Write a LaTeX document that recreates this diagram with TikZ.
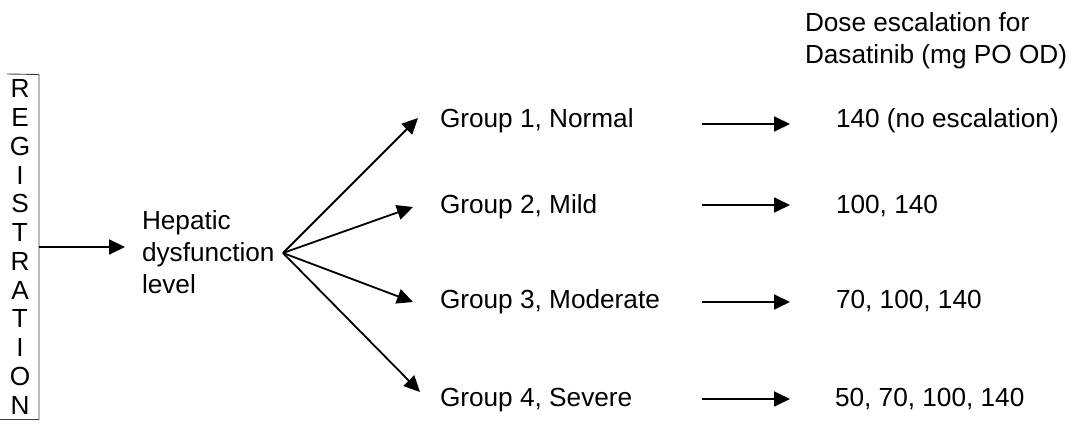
\documentclass[tikz,border=0pt]{standalone}
\usepackage{fontspec}
\setmainfont{Liberation Sans}
\usetikzlibrary{arrows.meta}
\begin{document}
\begin{tikzpicture}[x=1pt,y=-1pt,
  every node/.style={font=\fontsize{26.2}{32}\selectfont, inner sep=0pt, outer sep=0pt},
  arr/.style={line width=1.8pt, -{Triangle[length=16pt,width=15pt]}},
  lbl/.style={anchor=base west},
  multi/.style={anchor=north west, align=left},
  boxline/.style={line width=0.9pt, black!75}]
\useasboundingbox (0,0) rectangle (1076,422);
% registration box
\node[minimum width=39pt, minimum height=345pt] (regbox) at (19.5,247) {};
\draw[boxline] (7,74) -- (regbox.north east) -- (regbox.south east) -- (0,419.5);
\foreach \l [count=\i] in {R,E,G,I,S,T,R,A,T,I,O,N}
  \node[anchor=base] (reg\i) at (20,{98+(\i-1)*28.73}) {\l};
% hepatic
\node[multi] (hep) at (142,210.3) {Hepatic\\dysfunction\\level};
\coordinate (hepin) at (125,247);
\draw[arr] (regbox.east) -- (hepin);
% groups
\coordinate (fan) at (283,253);
\node[lbl] (g1) at (440,128) {Group 1, Normal};
\node[lbl] (g2) at (440,214) {Group 2, Mild};
\node[lbl] (g3) at (440,308) {Group 3, Moderate};
\node[lbl] (g4) at (440,406) {Group 4, Severe};
\coordinate (t1) at (418,118);
\coordinate (t2) at (413,207);
\coordinate (t3) at (413,302);
\coordinate (t4) at (420,392);
\foreach \i in {1,2,3,4} \draw[arr] (fan) -- (t\i);
% doses
\node[multi] (hdr) at (805,12.3) {Dose escalation for\\Dasatinib (mg PO OD)};
\node[lbl] (d1) at (836,128) {140 (no escalation)};
\node[lbl] (d2) at (836,214) {100, 140};
\node[lbl] (d3) at (836,308) {70, 100, 140};
\node[lbl] (d4) at (835,406) {50, 70, 100, 140};
\coordinate (s1) at (702,124); \coordinate (e1) at (790,124);
\coordinate (s2) at (702,205); \coordinate (e2) at (790,205);
\coordinate (s3) at (702,302); \coordinate (e3) at (790,302);
\coordinate (s4) at (702,399); \coordinate (e4) at (790,399);
\foreach \i in {1,2,3,4} \draw[arr] (s\i) -- (e\i);
\end{tikzpicture}
\end{document}
